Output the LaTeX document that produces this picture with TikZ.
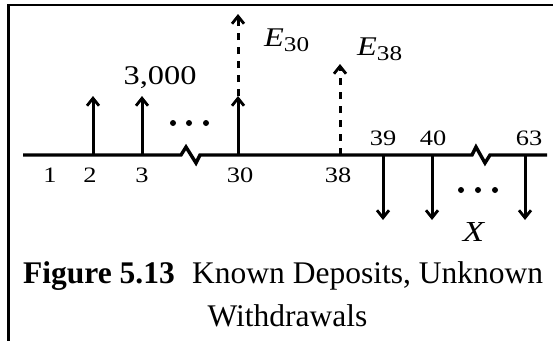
\documentclass[tikz,border=0pt]{standalone}
\usepackage{fontspec}
\setmainfont{Liberation Serif}
\newfontfamily\widefont[FakeStretch=1.2]{Liberation Serif}
\usetikzlibrary{arrows.meta}
\tikzset{
  axis/.style={line width=3.4pt},
  frame/.style={line width=2.4pt},
  flow/.style={line width=3pt,-{Straight Barb[length=7.5pt,width=12pt,line width=2.8pt]}},
  dashflow/.style={flow,dash pattern=on 7pt off 7pt},
  lab/.style={inner sep=0pt,font=\widefont\fontsize{22}{24}\selectfont},
  big/.style={inner sep=0pt,font=\widefont\fontsize{27}{30}\selectfont},
  captext/.style={inner sep=0pt,font=\fontsize{31.5}{34}\selectfont},
  dot/.style={circle,fill,inner sep=0pt,minimum size=6pt}
}
\begin{document}
\begin{tikzpicture}[x=1pt,y=-1pt]
\useasboundingbox (0,0) rectangle (553,341);
% frame (top and left edges)
\draw[frame] (553,5) -- (8.5,5) -- (8.5,341);
% time line with two breaks
\draw[axis] (23,155) -- (181,155) -- (186,147) -- (196,163) -- (200,155)
  -- (472,155) -- (476,147) -- (485,163) -- (490,155) -- (547,155);
% points on the time line
\coordinate (t2) at (93,155);
\coordinate (t3) at (142,155);
\coordinate (t30) at (238,155);
\coordinate (t38) at (340,155);
\coordinate (t39) at (383,155);
\coordinate (t40) at (432,155);
\coordinate (t63) at (525,155);
% arrow ends
\coordinate (u2) at (93,96);
\coordinate (u3) at (142,96);
\coordinate (u30) at (238,96);
\coordinate (e30) at (238,14);
\coordinate (e38) at (340,64);
\coordinate (d39) at (383,220);
\coordinate (d40) at (432,220);
\coordinate (d63) at (525,220);
% deposits
\draw[flow] (t2) -- (u2);
\draw[flow] (t3) -- (u3);
\draw[flow] (t30) -- (u30);
\draw[dashflow] (u30) -- (e30);
\draw[dashflow] (t38) -- (e38);
% withdrawals
\draw[flow] (t39) -- (d39);
\draw[flow] (t40) -- (d40);
\draw[flow] (t63) -- (d63);
% ellipses
\node[dot] (a1) at (173,123) {};
\node[dot] (a2) at (189,123) {};
\node[dot] (a3) at (206,123) {};
\node[dot] (b1) at (461,190) {};
\node[dot] (b2) at (478,190) {};
\node[dot] (b3) at (495,190) {};
% period labels
\node[lab] (l1) at (50,175) {1};
\node[lab] (l2) at (90,175) {2};
\node[lab] (l3) at (142,175) {3};
\node[lab] (l30) at (240,175) {30};
\node[lab] (l38) at (338,175) {38};
\node[lab] (l39) at (383,138) {39};
\node[lab] (l40) at (433,138) {40};
\node[lab] (l63) at (529,138) {63};
% amounts
\node[big] (amt) at (160,78) {3,000};
\node[big,anchor=base west] (E30) at (264,46)
  {\textit{E}\raisebox{-0.2em}{\fontsize{21}{22}\selectfont 30}};
\node[big,anchor=base west] (E38) at (357,55)
  {\textit{E}\raisebox{-0.2em}{\fontsize{21}{22}\selectfont 38}};
\node[big,font=\widefont\fontsize{29}{30}\selectfont] (X) at (474,232) {\textit{X}};
% caption
\node[captext,anchor=base west] (c1) at (23,283)
  {\textbf{Figure 5.13}\hspace{0.55em}Known Deposits, Unknown};
\node[captext,anchor=base] (c2) at (287.5,326) {Withdrawals};
\end{tikzpicture}
\end{document}
